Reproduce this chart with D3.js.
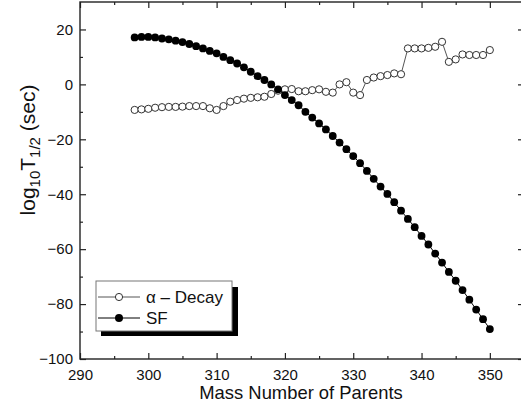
<!DOCTYPE html>
<html>
<head>
<meta charset="utf-8">
<script src="https://cdn.jsdelivr.net/npm/d3@7"></script>
<style>
body { margin: 0; background: #fff; }
text { font-family: Arial, "Liberation Sans", sans-serif; fill: #111; }
</style>
</head>
<body>
<div id="chart"></div>
<script>
// mass numbers of parent nuclei
const massNumbers = d3.range(298, 351);

// log10 T1/2 (sec), alpha decay
const alphaDecay = [
	-9.3, -9.1, -8.9, -8.5, -8.3, -8.2, -8.2, -8.1, -7.9, -7.9,
	-7.9, -8.7, -9.3, -7.9, -6.3, -5.7, -5.2, -4.9, -4.7, -4.5,
	-3.5, -2.3, -1.8, -1.7, -2.5, -2.5, -2.1, -1.8, -2.7, -3.0,
	0.0, 0.8, -3.0, -3.9, 1.6, 2.5, 3.0, 3.4, 4.0, 3.7,
	13.1, 13.1, 13.1, 13.3, 13.7, 15.5, 8.2, 9.1, 10.9, 10.7,
	10.7, 10.7, 12.5
];

// log10 T1/2 (sec), spontaneous fission
const fission = [
	17.1, 17.3, 17.3, 17.1, 16.7, 16.4, 15.9, 15.4, 14.7, 13.9,
	13.1, 12.2, 11.3, 10.0, 8.8, 7.6, 6.2, 4.6, 3.0, 1.6,
	0.0, -1.8, -3.9, -5.7, -7.6, -10.0, -12.1, -14.2, -16.4, -18.8,
	-21.2, -23.6, -26.1, -28.7, -31.5, -34.4, -37.2, -39.9, -42.9, -46.0,
	-49.0, -52.0, -55.2, -58.3, -61.6, -64.9, -68.3, -71.5, -74.9, -78.4,
	-82.0, -85.5, -89.1
];

const xTicks = [290, 300, 310, 320, 330, 340, 350];
const yTicks = [-100, -80, -60, -40, -20, 0, 20];

const width = 521, height = 414;
const plotL = 80, plotR = 524, plotT = 2, plotB = 359;

const svg = d3.select("#chart").append("svg")
	.attr("width", width)
	.attr("height", height);

const x = d3.scaleLinear().domain([290, 355]).range([plotL, plotR]);
const y = d3.scaleLinear().domain([-100, 30]).range([plotB, plotT]);

const xMinor = d3.range(295, 355, 10);
const yMinor = d3.range(-90, 30, 20);

// ticks, pointing inward on all four sides
svg.append("g")
	.attr("transform", "translate(0," + plotB + ")")
	.call(d3.axisBottom(x).tickValues(xTicks).tickSize(-6).tickPadding(10).tickFormat(d3.format("d")));
svg.append("g")
	.attr("transform", "translate(0," + plotT + ")")
	.call(d3.axisTop(x).tickValues(xTicks).tickSize(-6).tickFormat(""));
svg.append("g")
	.attr("transform", "translate(" + plotL + ",0)")
	.call(d3.axisLeft(y).tickValues(yTicks).tickSize(-6).tickPadding(7).tickFormat(d3.format("d")));
svg.append("g")
	.attr("transform", "translate(" + plotR + ",0)")
	.call(d3.axisRight(y).tickValues(yTicks).tickSize(-6).tickFormat(""));

svg.append("g").attr("transform", "translate(0," + plotB + ")")
	.call(d3.axisBottom(x).tickValues(xMinor).tickSize(-3).tickFormat(""));
svg.append("g").attr("transform", "translate(0," + plotT + ")")
	.call(d3.axisTop(x).tickValues(xMinor).tickSize(-3).tickFormat(""));
svg.append("g").attr("transform", "translate(" + plotL + ",0)")
	.call(d3.axisLeft(y).tickValues(yMinor).tickSize(-3).tickFormat(""));
svg.append("g").attr("transform", "translate(" + plotR + ",0)")
	.call(d3.axisRight(y).tickValues(yMinor).tickSize(-3).tickFormat(""));

svg.selectAll(".domain").remove();
svg.selectAll(".tick line").attr("stroke", "#222").attr("stroke-width", 1.2);
svg.selectAll(".tick text").style("font-size", "15px").attr("fill", "#111");

svg.append("rect")
	.attr("x", plotL).attr("y", plotT)
	.attr("width", plotR - plotL).attr("height", plotB - plotT)
	.attr("fill", "none")
	.attr("stroke", "#222")
	.attr("stroke-width", 1.4);

// series
const alphaData = massNumbers.map((a, i) => ({a: a, v: alphaDecay[i]}));
const sfData = massNumbers.map((a, i) => ({a: a, v: fission[i]}));
const line = d3.line().x(d => x(d.a)).y(d => y(d.v));

svg.append("path").datum(alphaData)
	.attr("d", line).attr("fill", "none").attr("stroke", "#555").attr("stroke-width", 1);
svg.append("g").selectAll("circle")
	.data(alphaData)
	.enter().append("circle")
		.attr("cx", d => x(d.a)).attr("cy", d => y(d.v))
		.attr("r", 3.6)
		.attr("fill", "#fff").attr("stroke", "#333").attr("stroke-width", 1);

svg.append("path").datum(sfData)
	.attr("d", line).attr("fill", "none").attr("stroke", "#000").attr("stroke-width", 1);
svg.append("g").selectAll("circle")
	.data(sfData)
	.enter().append("circle")
		.attr("cx", d => x(d.a)).attr("cy", d => y(d.v))
		.attr("r", 3.9)
		.attr("fill", "#000");

// legend
const lg = svg.append("g");
lg.append("rect").attr("x", 101).attr("y", 287).attr("width", 137).attr("height", 49).attr("fill", "#000");
lg.append("rect").attr("x", 96).attr("y", 281).attr("width", 136).attr("height", 50)
	.attr("fill", "#fff").attr("stroke", "#777").attr("stroke-width", 1);
lg.append("line").attr("x1", 98).attr("x2", 140).attr("y1", 297).attr("y2", 297).attr("stroke", "#555");
lg.append("circle").attr("cx", 119).attr("cy", 297).attr("r", 3.6).attr("fill", "#fff").attr("stroke", "#333");
lg.append("text").attr("x", 146).attr("y", 303).style("font-size", "17px").text("α – Decay");
lg.append("line").attr("x1", 98).attr("x2", 140).attr("y1", 318).attr("y2", 318).attr("stroke", "#000");
lg.append("circle").attr("cx", 119).attr("cy", 318).attr("r", 4).attr("fill", "#000");
lg.append("text").attr("x", 146).attr("y", 324).style("font-size", "17px").text("SF");

// axis titles
svg.append("text")
	.attr("x", 301).attr("y", 399)
	.attr("text-anchor", "middle")
	.style("font-size", "18.4px")
	.text("Mass Number of Parents");

const yt = svg.append("text")
	.attr("transform", "translate(35,150) rotate(-90)")
	.attr("text-anchor", "middle")
	.style("font-size", "21px");
yt.append("tspan").text("log");
yt.append("tspan").attr("dy", 5).style("font-size", "15px").text("10");
yt.append("tspan").attr("dy", -5).text("T");
yt.append("tspan").attr("dy", 5).style("font-size", "15px").text("1/2");
yt.append("tspan").attr("dy", -5).text(" (sec)");
</script>
</body>
</html>
